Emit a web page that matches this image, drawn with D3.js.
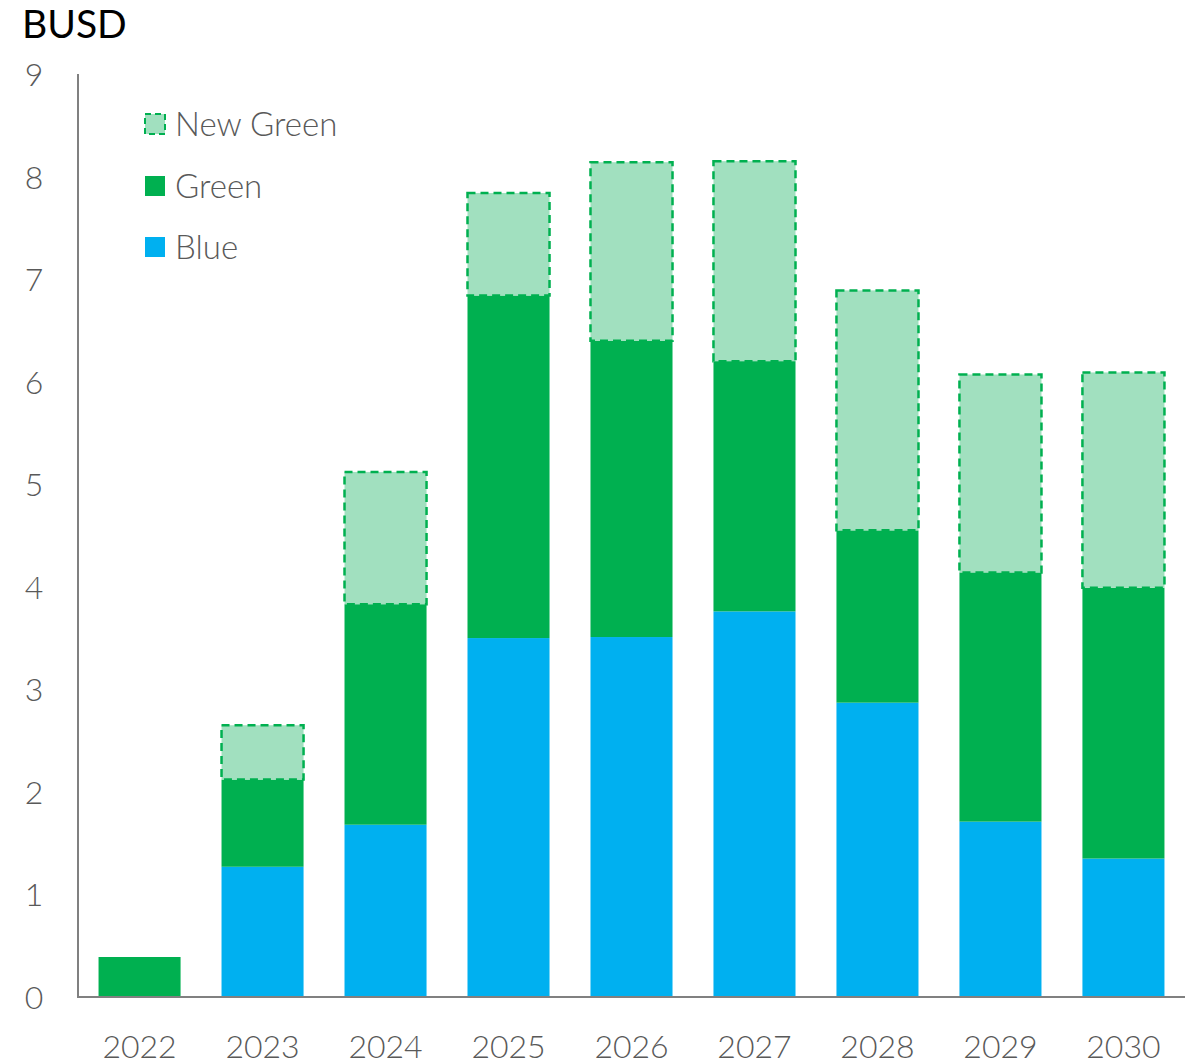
<html>
<head>
  <script src="https://d3js.org/d3.v7.min.js"></script>
  <style>
  body { margin: 0; background: #fff; }
  text { font-family: Lato, "Open Sans", sans-serif; }
  </style>
</head>
<body>
  <svg width="1194" height="1064"></svg>

<script>
var years = ["2022", "2023", "2024", "2025", "2026", "2027", "2028", "2029", "2030"];
var blue = [0, 1.27, 1.68, 3.50, 3.51, 3.76, 2.87, 1.71, 1.35];
var green = [0.39, 0.85, 2.15, 3.34, 2.89, 2.44, 1.68, 2.43, 2.64];
var newGreen = [0, 0.53, 1.29, 1.00, 1.74, 1.95, 2.34, 1.93, 2.10];
var yTicks = [0, 1, 2, 3, 4, 5, 6, 7, 8, 9];

var svg = d3.select("svg");

var x = d3.scaleBand().domain(years).range([78, 1185]).paddingInner(0.333).paddingOuter(0.167);
var y = d3.scaleLinear().domain([0, 9]).range([997, 74]);

// stacked bars
var rows = years.map(function(yr, i) {
  return { year: yr, blue: blue[i], green: green[i], newGreen: newGreen[i] };
});
var stack = d3.stack().keys(["blue", "green", "newGreen"])(rows);
var fills = { blue: "#00B0F0", green: "#00B050", newGreen: "#A1E0BF" };

stack.forEach(function(layer) {
  svg.append("g").selectAll("rect")
    .data(layer.filter(function(d) { return d[1] - d[0] > 0; }))
    .enter().append("rect")
    .attr("x", function(d) { return x(d.data.year); })
    .attr("width", x.bandwidth())
    .attr("y", function(d) { return y(d[1]); })
    .attr("height", function(d) { return y(d[0]) - y(d[1]); })
    .attr("fill", fills[layer.key])
    .attr("stroke", layer.key == "newGreen" ? "#00B050" : "none")
    .attr("stroke-width", 2.5)
    .attr("stroke-dasharray", "8,5");
});

// axes
svg.append("line").attr("x1", 78).attr("x2", 78).attr("y1", 74).attr("y2", 997)
  .attr("stroke", "#808080").attr("stroke-width", 2);
svg.append("line").attr("x1", 77).attr("x2", 1185).attr("y1", 997).attr("y2", 997)
  .attr("stroke", "#808080").attr("stroke-width", 2);

svg.append("g").selectAll("text").data(yTicks).enter().append("text")
  .attr("x", 34).attr("y", function(d) { return y(d) + 12; })
  .attr("text-anchor", "middle")
  .attr("font-size", 32).attr("font-weight", 300).attr("fill", "#595959")
  .text(function(d) { return d; });

svg.append("g").selectAll("text").data(years).enter().append("text")
  .attr("x", function(d) { return x(d) + x.bandwidth() / 2; })
  .attr("y", 1058)
  .attr("text-anchor", "middle")
  .attr("font-size", 32).attr("font-weight", 300).attr("fill", "#595959")
  .text(function(d) { return d; });

svg.append("text").attr("x", 22).attr("y", 38)
  .attr("font-size", 39).attr("fill", "#000").text("BUSD");

// legend
var legend = [
  { label: "New Green", key: "newGreen", y: 124 },
  { label: "Green", key: "green", y: 186 },
  { label: "Blue", key: "blue", y: 247 }
];
legend.forEach(function(l) {
  svg.append("rect").attr("x", 145).attr("y", l.y - 10).attr("width", 20).attr("height", 20)
    .attr("fill", fills[l.key])
    .attr("stroke", l.key == "newGreen" ? "#00B050" : "none")
    .attr("stroke-width", 2).attr("stroke-dasharray", "6,4");
  svg.append("text").attr("x", 175).attr("y", l.y + 12)
    .attr("font-size", 33).attr("font-weight", 300).attr("fill", "#595959").text(l.label);
});
</script>
</body></html>
